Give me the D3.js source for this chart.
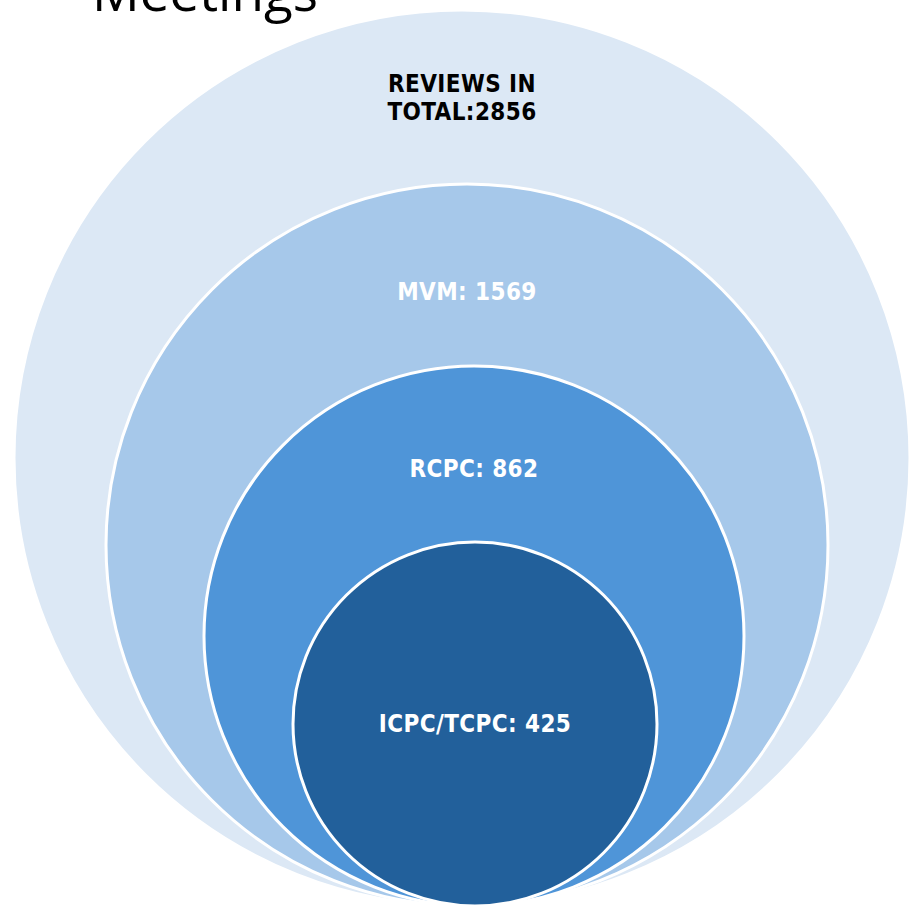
<!DOCTYPE html>
<html>
<head>
<meta charset="utf-8">
<script src="https://cdn.jsdelivr.net/npm/d3@7"></script>
<style>
  html, body { margin: 0; padding: 0; background: #ffffff; }
  svg { display: block; }
</style>
</head>
<body>
<script>
// ---- data ----
const titleText = "Meetings";
const categories = ["REVIEWS IN TOTAL", "MVM", "RCPC", "ICPC/TCPC"];
const values = [2856, 1569, 862, 425];
const labelLines = [["REVIEWS IN", "TOTAL:2856"], ["MVM: 1569"], ["RCPC: 862"], ["ICPC/TCPC: 425"]];
const fills = ["#dce8f5", "#a6c8ea", "#4f95d8", "#22609b"];
const textColors = ["#000000", "#ffffff", "#ffffff", "#ffffff"];

// ---- layout ----
const W = 909, H = 908;
const bottom = 906;
const idx = categories.map((d, i) => i);
const rScale = d3.scaleLinear().domain([0, 1, 2, 3]).range([448, 361, 270, 182]);
const cxScale = d3.scaleLinear().domain([0, 1, 2, 3]).range([462, 467, 474, 475]);
const labelOffset = [88, 108, 103, null]; // from circle top; null => centre

const svg = d3.select("body").append("svg").attr("width", W).attr("height", H);

const rings = idx.map(i => ({
  i, cat: categories[i], value: values[i],
  r: rScale(i), cx: cxScale(i), cy: bottom - rScale(i)
}));

svg.selectAll("circle.ring").data(rings).join("circle")
  .attr("class", "ring")
  .attr("cx", d => d.cx).attr("cy", d => d.cy).attr("r", d => d.r)
  .attr("fill", d => fills[d.i])
  .attr("stroke", "#ffffff").attr("stroke-width", 3);

const fontFam = "'DejaVu Sans Condensed', 'DejaVu Sans', sans-serif";
const lineH = 28;
const g = svg.selectAll("g.lab").data(rings).join("g").attr("class", "lab");
g.each(function(d) {
  const lines = labelLines[d.i];
  const top = d.cy - d.r;
  const centreY = labelOffset[d.i] == null ? d.cy : top + labelOffset[d.i];
  const t = d3.select(this).append("text")
    .attr("text-anchor", "middle")
    .attr("font-family", fontFam)
    .attr("font-weight", "bold")
    .attr("font-size", 24)
    .attr("letter-spacing", 0.4)
    .attr("fill", textColors[d.i]);
  lines.forEach((ln, k) => {
    const y = centreY + (k - (lines.length - 1) / 2) * lineH + 8;
    t.append("tspan").attr("x", d.cx).attr("y", y).text(ln);
  });
});

// partially visible title at the top
svg.append("text")
  .attr("x", 92).attr("y", 11)
  .attr("font-family", "'Open Sans', sans-serif")
  .attr("font-size", 53)
  .attr("fill", "#000000")
  .text(titleText);
</script>
</body>
</html>
